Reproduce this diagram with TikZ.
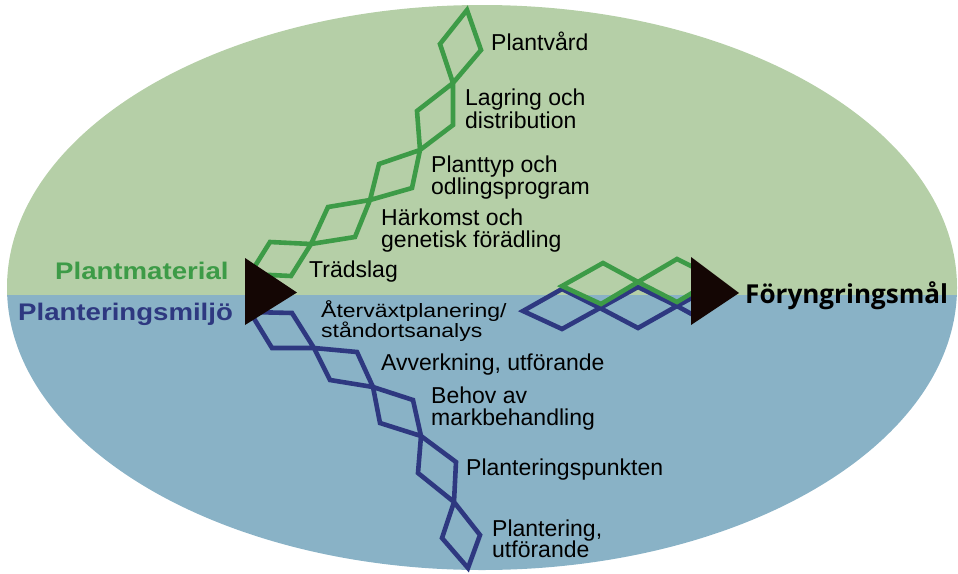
\documentclass[tikz,border=0pt]{standalone}
\usepackage{fontspec}
\usepackage{graphicx}
\setmainfont{Liberation Sans}
\newfontfamily\goalfont{Open Sans}
\definecolor{bgG}{RGB}{181,207,167}
\definecolor{bgB}{RGB}{137,178,198}
\definecolor{lnG}{RGB}{61,155,71}
\definecolor{lnB}{RGB}{46,56,128}
\definecolor{tri}{RGB}{20,6,4}
\begin{document}
\begin{tikzpicture}[x=1pt,y=-1pt,
  chainG/.style={draw=lnG, line width=4.6pt, line join=miter, miter limit=10},
  chainB/.style={draw=lnB, line width=4.6pt, line join=miter, miter limit=10},
  lab/.style={anchor=base west, inner sep=0pt, text=black, font=\fontsize{23}{23}\selectfont},
  sidelab/.style={anchor=base west, inner sep=0pt, font=\fontsize{24}{24}\selectfont\bfseries},
  arrowtri/.style={fill=tri, draw=none}]
\useasboundingbox (0,0) rectangle (958,573);

% background ellipse, split in two halves
\begin{scope}
  \clip (482,287.5) ellipse [x radius=475pt, y radius=282.5pt];
  \fill[bgG] (0,0) rectangle (958,294.5);
  \fill[bgB] (0,294.5) rectangle (958,573);
\end{scope}

% ---- blue vertical chain (Planteringsmiljö)
\coordinate (bC0) at (250,312);
\coordinate (bL0) at (272,348);
\coordinate (bR0) at (292,313);
\coordinate (bC1) at (314,348);
\coordinate (bR1) at (357,352);
\coordinate (bL1) at (330,380);
\coordinate (bC2) at (373,387);
\coordinate (bR2) at (413,400);
\coordinate (bL2) at (380,423);
\coordinate (bC3) at (421,436);
\coordinate (bR3) at (456,462);
\coordinate (bL3) at (418,473);
\coordinate (bC4) at (454,502);
\coordinate (bR4) at (480,535);
\coordinate (bL4) at (442,538);
\coordinate (bC5) at (468,568);
\draw[chainB] (bC0) -- (bL0) -- (bC1) -- (bR1) -- (bC2) -- (bL2) -- (bC3) -- (bR3)
  -- (bC4) -- (bL4) -- (bC5) -- (bR4) -- (bC4) -- (bL3) -- (bC3) -- (bR2) -- (bC2)
  -- (bL1) -- (bC1) -- (bR0) -- cycle;

% ---- green vertical chain (Plantmaterial)
\coordinate (gC0) at (250,274);
\coordinate (gL0) at (270,242);
\coordinate (gR0) at (291,276);
\coordinate (gC1) at (311,244);
\coordinate (gL1) at (328,207);
\coordinate (gR1) at (355,237);
\coordinate (gC2) at (370,200);
\coordinate (gL2) at (379,164);
\coordinate (gR2) at (412,188);
\coordinate (gC3) at (420,150);
\coordinate (gL3) at (417,111);
\coordinate (gR3) at (453,125);
\coordinate (gC4) at (453,83);
\coordinate (gL4) at (440,44);
\coordinate (gR4) at (481,50);
\coordinate (gC5) at (467,10);
\draw[chainG] (gC0) -- (gL0) -- (gC1) -- (gR1) -- (gC2) -- (gL2) -- (gC3) -- (gR3)
  -- (gC4) -- (gL4) -- (gC5) -- (gR4) -- (gC4) -- (gL3) -- (gC3) -- (gR2) -- (gC2)
  -- (gL1) -- (gC1) -- (gR0) -- cycle;

% ---- horizontal double chain towards Föryngringsmål
\coordinate (hV0) at (523,311);
\coordinate (hT0) at (562,289);
\coordinate (hB0) at (562,329);
\coordinate (hC1) at (600,308);
\coordinate (hT1) at (638,287);
\coordinate (hB1) at (638,328);
\coordinate (hC2) at (677,306);
\coordinate (hE1) at (697,295);
\coordinate (hE2) at (697,317);
\draw[chainB] (hE1) -- (hC2) -- (hB1) -- (hC1) -- (hT0) -- (hV0) -- (hB0) -- (hC1)
  -- (hT1) -- (hC2) -- (hE2);

\coordinate (kV0) at (562,286);
\coordinate (kT0) at (603,263);
\coordinate (kB0) at (601,304);
\coordinate (kC1) at (638,282);
\coordinate (kT1) at (677,259);
\coordinate (kB1) at (677,302);
\coordinate (kE1) at (697,269);
\coordinate (kE2) at (697,290);
\draw[chainG] (kE2) -- (kB1) -- (kC1) -- (kT0) -- (kV0) -- (kB0) -- (kC1) -- (kT1) -- (kE1);

% ---- triangles
\fill[arrowtri] (245,258) -- (297,292.5) -- (245,325) -- cycle;
\fill[arrowtri] (691,257) -- (739,293) -- (691,325) -- cycle;

% ---- side labels
\node[sidelab, text=lnG] (pm) at (55,279) {\scalebox{1.15}[1]{Plantmaterial}};
\node[sidelab, text=lnB] (pl) at (18,320) {\scalebox{1.15}[1]{Planteringsmiljö}};
\node[anchor=base west, inner sep=0pt, text=black] (goal) at (745,303)
  {\resizebox{203pt}{!}{\goalfont\fontsize{28}{28}\selectfont\bfseries Föryngringsmål}};

% ---- green step labels
\node[lab] (g5) at (491,50) {Plantvård};
\node[lab] (g4a) at (465,105) {Lagring och};
\node[lab] (g4b) at (465,128) {distribution};
\node[lab] (g3a) at (431,172) {Planttyp och};
\node[lab] (g3b) at (431,194) {odlingsprogram};
\node[lab] (g2a) at (381,225) {Härkomst och};
\node[lab] (g2b) at (381,247) {genetisk förädling};
\node[lab] (g1) at (309,277) {Trädslag};

% ---- blue step labels
\node[lab] (b1a) at (321,317) {\scalebox{1}[0.84]{Återväxtplanering/}};
\node[lab] (b1b) at (321,337) {\scalebox{1}[0.84]{ståndortsanalys}};
\node[lab] (b2) at (381,370) {Avverkning, utförande};
\node[lab] (b3a) at (431,403) {Behov av};
\node[lab] (b3b) at (431,425) {markbehandling};
\node[lab] (b4) at (466,475) {Planteringspunkten};
\node[lab] (b5a) at (492,536) {Plantering,};
\node[lab] (b5b) at (492,557) {utförande};
\end{tikzpicture}
\end{document}
